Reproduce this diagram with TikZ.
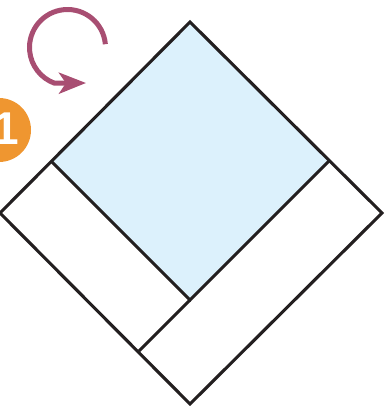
\documentclass[tikz,border=0pt]{standalone}
\usepackage{fontspec}
\setmainfont{Liberation Sans}
\usetikzlibrary{arrows.meta,calc}
\definecolor{paperblue}{HTML}{DCF1FC}
\definecolor{inkline}{HTML}{231F20}
\definecolor{turncol}{HTML}{A84E72}
\definecolor{stepcol}{HTML}{EF9630}
\tikzset{
  fold/.style={draw=inkline, line width=3.1pt, line join=miter},
  turnarrow/.style={draw=turncol, line width=5pt, -{Stealth[length=27pt, width=21pt, inset=7pt]}},
  stepbadge/.style={circle, fill=stepcol, minimum size=64pt, inner sep=0pt},
  steptext/.style={text=white, font=\bfseries\fontsize{46}{46}\selectfont, inner sep=0pt}
}
\begin{document}
\begin{tikzpicture}[x=1pt, y=-1pt]
\useasboundingbox (0,0) rectangle (384,406);
% key points
\coordinate (T) at (190,22);
\coordinate (R) at (382,213);
\coordinate (B) at (190,404);
\coordinate (L) at (0,213);
\coordinate (IL) at (52,162);
\coordinate (IR) at (329,161);
\coordinate (IB) at (190,300);
\coordinate (J) at (139,351);
% blue square
\fill[paperblue] (T) -- (IR) -- (IB) -- (IL) -- cycle;
% outline and folds
\draw[fold] (T) -- (R) -- (B) -- (L) -- cycle;
\draw[fold] (IL) -- (IB) -- (IR);
\draw[fold] (IB) -- (J);
% step badge
\node[stepbadge] (badge) at (-1,130) {};
\node[steptext, anchor=base] (num) at (6,145) {1};
% turn-over arrow
\coordinate (ac) at (67.5,47.5);
\coordinate (tip) at (86,83);
\draw[turnarrow] ($(ac)+(-5:38)$) arc[start angle=-5, end angle=-250, radius=38] -- (tip);
\end{tikzpicture}
\end{document}
